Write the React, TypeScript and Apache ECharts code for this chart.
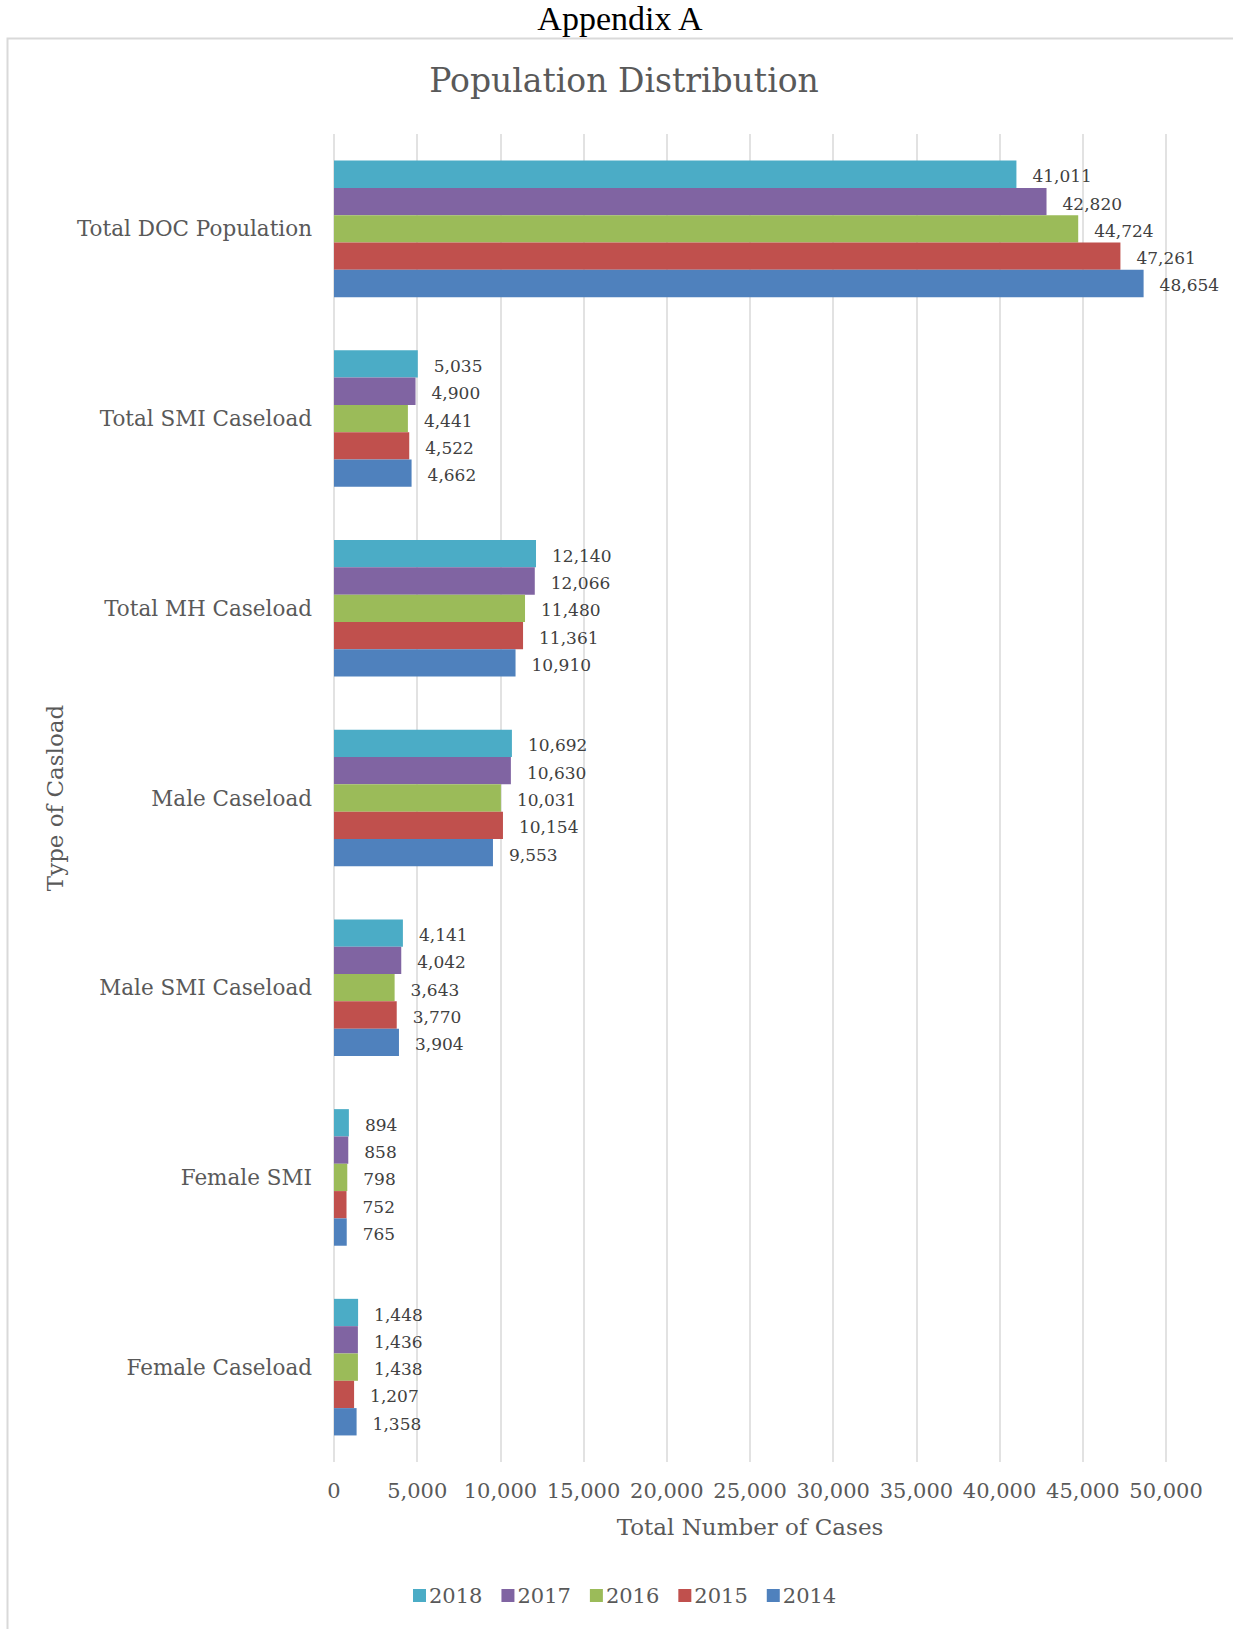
import React, { useEffect, useRef } from "react";
import * as echarts from "echarts";

const categories = [
  "Total DOC Population",
  "Total SMI Caseload",
  "Total MH Caseload",
  "Male Caseload",
  "Male SMI Caseload",
  "Female SMI",
  "Female Caseload",
];

const years = ["2018", "2017", "2016", "2015", "2014"];

const values2018 = [41011, 5035, 12140, 10692, 4141, 894, 1448];
const values2017 = [42820, 4900, 12066, 10630, 4042, 858, 1436];
const values2016 = [44724, 4441, 11480, 10031, 3643, 798, 1438];
const values2015 = [47261, 4522, 11361, 10154, 3770, 752, 1207];
const values2014 = [48654, 4662, 10910, 9553, 3904, 765, 1358];

const seriesValues = [values2018, values2017, values2016, values2015, values2014];
const colors = ["#4BACC6", "#8064A2", "#9BBB59", "#C0504D", "#4F81BD"];

const FONT = "'DejaVu Serif', serif";
const fmt = (v: number) => v.toLocaleString("en-US");

export default function App() {
  const ref = useRef<HTMLDivElement>(null);
  useEffect(() => {
    if (!ref.current) return;
    const chart = echarts.init(ref.current, undefined, { renderer: "svg" });
    chart.setOption({
      animation: false,
      backgroundColor: "#ffffff",
      graphic: [
        {
          type: "rect",
          shape: { x: 7.5, y: 38.5, width: 1400, height: 1800 },
          style: { fill: "none", stroke: "#d9d9d9", lineWidth: 2 },
          silent: true,
        },
        {
          type: "text",
          x: 620,
          y: 18,
          style: {
            text: "Appendix A",
            fill: "#000000",
            font: "34px 'Liberation Serif', serif",
            textAlign: "center",
            textVerticalAlign: "middle",
          },
        },
        {
          type: "text",
          x: 624,
          y: 80,
          style: {
            text: "Population Distribution",
            fill: "#595959",
            font: "33px " + FONT,
            textAlign: "center",
            textVerticalAlign: "middle",
          },
        },
      ],
      legend: {
        data: years,
        left: 408,
        top: 1580,
        icon: "rect",
        itemWidth: 13,
        itemHeight: 13,
        itemGap: 19,
        textStyle: { fontFamily: FONT, fontSize: 21, color: "#595959", padding: [0, 0, 0, -2] },
      },
      grid: { left: 334, top: 134, width: 832, height: 1328 },
      xAxis: {
        type: "value",
        min: 0,
        max: 50000,
        interval: 5000,
        axisLine: { show: false },
        axisTick: { show: false },
        splitLine: { lineStyle: { color: "#d9d9d9", width: 1.5 } },
        axisLabel: {
          formatter: (v: number) => fmt(v),
          fontFamily: FONT,
          fontSize: 21,
          color: "#595959",
          margin: 18,
        },
        name: "Total Number of Cases",
        nameLocation: "middle",
        nameGap: 53,
        nameTextStyle: { fontFamily: FONT, fontSize: 23, color: "#595959" },
      },
      yAxis: {
        type: "category",
        inverse: true,
        data: categories,
        axisLine: { show: false },
        axisTick: { show: false },
        axisLabel: { fontFamily: FONT, fontSize: 21.5, color: "#595959", margin: 22, padding: [0, 0, 4, 0] },
        name: "Type of Casload",
        nameLocation: "middle",
        nameRotate: 90,
        nameGap: 268,
        nameTextStyle: { fontFamily: FONT, fontSize: 23, color: "#595959" },
      },
      series: years.map((y, i) => ({
        name: y,
        type: "bar",
        data: seriesValues[i],
        barGap: "0%",
        barCategoryGap: "28%",
        itemStyle: { color: colors[i] },
        label: {
          show: true,
          position: "right",
          distance: 16,
          offset: [0, 2],
          formatter: (p: any) => fmt(p.value),
          fontFamily: FONT,
          fontSize: 17,
          color: "#404040",
        },
      })),
    });
    return () => chart.dispose();
  }, []);
  return (
    <div
      ref={ref}
      style={{ position: "fixed", left: 0, top: 0, width: 1233, height: 1629 }}
    />
  );
}
